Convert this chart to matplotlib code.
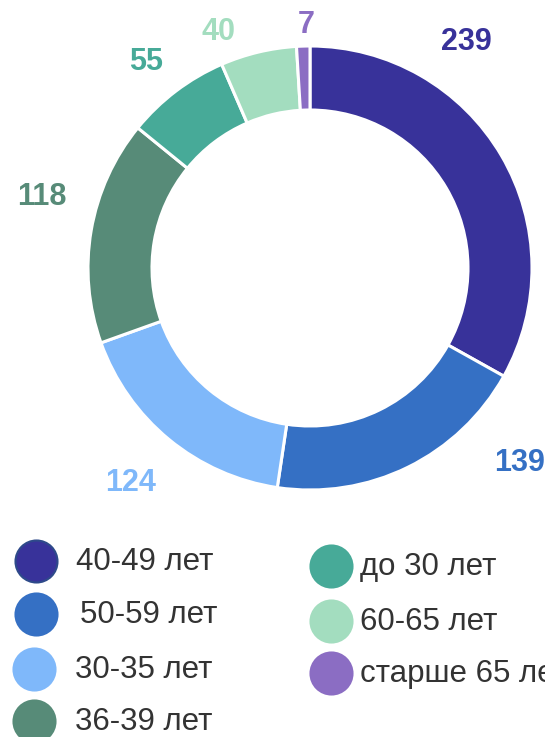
import matplotlib.pyplot as plt

# Data
values = [239, 139, 124, 118, 55, 40, 7]
labels = ["40-49 лет", "50-59 лет", "30-35 лет", "36-39 лет",
          "до 30 лет", "60-65 лет", "старше 65 лет"]
colors = ["#38329A", "#3570C4", "#7FB8FA", "#578B78",
          "#47AA98", "#A3DDBF", "#8B6DC3"]

# value label positions (pixels from top-left)
label_pos = [(466, 42), (520, 463), (131, 483), (42, 197),
             (146, 62), (219, 32), (306, 25)]

W, H = 545, 737
plt.rcParams['font.family'] = ['Liberation Sans', 'DejaVu Sans']

fig = plt.figure(figsize=(W / 100, H / 100), dpi=100)
ax = fig.add_axes([0, 0, 1, 1])

cx, cy, r = 310, H - 268, 222
ax.pie(values, colors=colors, startangle=90, counterclock=False,
       center=(cx, cy), radius=r, frame=True,
       wedgeprops=dict(width=64, edgecolor="white", linewidth=2.2))
ax.set_xlim(0, W)
ax.set_ylim(0, H)
ax.set_aspect("auto")
ax.axis("off")

for v, c, (x, y) in zip(values, colors, label_pos):
    ax.text(x, H - y, str(v), color=c, fontsize=22, fontweight="bold",
            ha="center", va="center")

# legend
leg_pos = [(36, 561), (36, 614), (34, 669), (34, 721),
           (331, 566), (331, 621), (331, 673)]
text_x = [76, 80, 75, 75, 360, 360, 360]
for i, (lab, c) in enumerate(zip(labels, colors)):
    x, y = leg_pos[i]
    ec = "#2E4A8A" if i == 0 else c
    ax.scatter([x], [H - y], s=915, color=c, edgecolors=ec, linewidths=1.5,
               zorder=3)
    ax.text(text_x[i], H - y - 1, lab, fontsize=22.5, color="#333333",
            ha="left", va="center")

fig.savefig("out.png", dpi=100)
